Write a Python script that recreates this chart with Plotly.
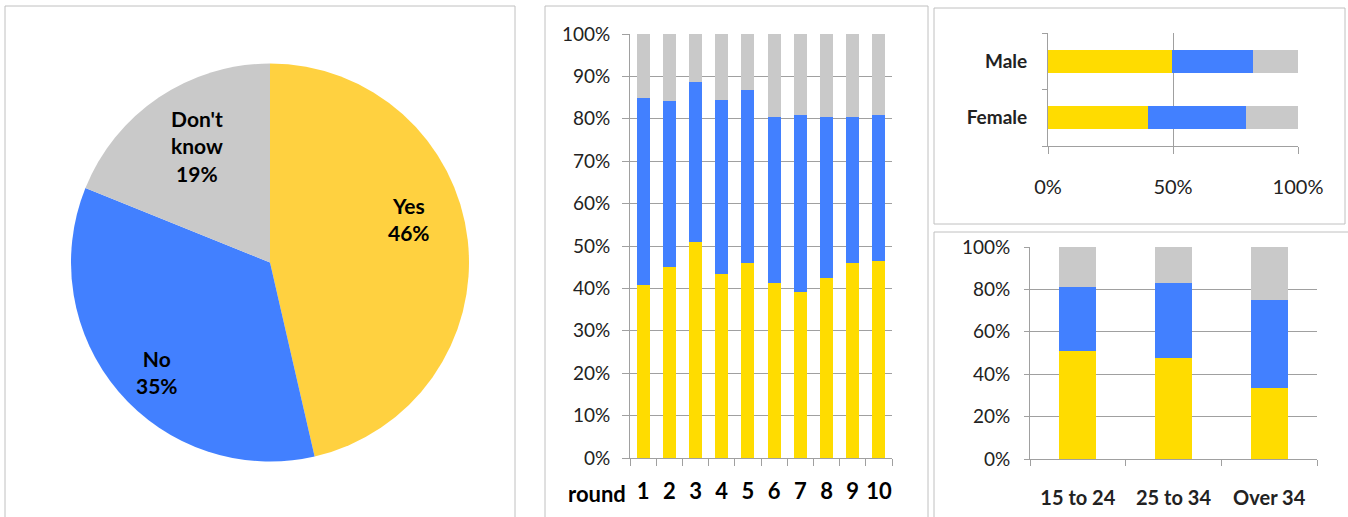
import plotly.graph_objects as go

W, H = 1348, 517

# ---------------- data ----------------
pie_labels = ["Yes", "No", "Don't know"]
pie_values = [46.4, 34.7, 18.9]

rounds = ["1", "2", "3", "4", "5", "6", "7", "8", "9", "10"]
round_yes = [40.8, 45.1, 50.9, 43.4, 46.0, 41.3, 39.1, 42.5, 45.9, 46.5]
round_no = [44.0, 39.2, 37.8, 41.1, 40.8, 39.2, 41.8, 38.0, 34.6, 34.4]
round_dk = [15.2, 15.7, 11.3, 15.5, 13.2, 19.5, 19.1, 19.5, 19.5, 19.1]

genders = ["Female", "Male"]
gender_yes = [40.0, 49.5]
gender_no = [39.1, 32.5]
gender_dk = [20.9, 18.0]

ages = ["15 to 24", "25 to 34", "Over 34"]
age_yes = [50.9, 47.5, 33.4]
age_no = [30.3, 35.7, 41.5]
age_dk = [18.8, 16.8, 25.1]

gender_ticks = [0, 50, 100]

# ---------------- styles ----------------
PIE_COLORS = ["#FFD140", "#4280FF", "#C9C9C9"]
YES_C, NO_C, DK_C = "#FFDC00", "#4280FF", "#C9C9C9"
GRID = "#A0A0A0"
FONT = "Lato"
TXT = "#222222"


def px(x):
    return x / W


def py(y):
    return 1 - y / H


fig = go.Figure()

# Pie
fig.add_trace(go.Pie(
    labels=pie_labels, values=pie_values, sort=False, direction="clockwise",
    rotation=0, marker=dict(colors=PIE_COLORS, line=dict(width=0)),
    textinfo="none", hoverinfo="label+percent", showlegend=False, automargin=False,
    domain=dict(x=[px(71), px(469)], y=[py(462), py(63)]),
))

# Rounds stacked bars
for vals, col, name in [(round_yes, YES_C, "Yes"), (round_no, NO_C, "No"), (round_dk, DK_C, "Don't know")]:
    fig.add_trace(go.Bar(x=rounds, y=vals, marker=dict(color=col, line=dict(width=0)),
                         name=name, showlegend=False, xaxis="x", yaxis="y"))

# Gender horizontal stacked bars
for vals, col, name in [(gender_yes, YES_C, "Yes"), (gender_no, NO_C, "No"), (gender_dk, DK_C, "Don't know")]:
    fig.add_trace(go.Bar(y=genders, x=vals, orientation="h", marker=dict(color=col, line=dict(width=0)),
                         name=name, showlegend=False, xaxis="x2", yaxis="y2", width=0.4))

# Age stacked bars
for vals, col, name in [(age_yes, YES_C, "Yes"), (age_no, NO_C, "No"), (age_dk, DK_C, "Don't know")]:
    fig.add_trace(go.Bar(x=ages, y=vals, marker=dict(color=col, line=dict(width=0)),
                         name=name, showlegend=False, xaxis="x3", yaxis="y3", width=0.39))

bold_font = dict(family=FONT, size=22, color="#000000", weight="bold")

fig.update_layout(
    template="none",
    width=W, height=H, margin=dict(l=0, r=0, t=0, b=0, pad=0, autoexpand=False),
    paper_bgcolor="white", plot_bgcolor="white",
    barmode="stack", bargap=0.5, showlegend=False,
    font=dict(family=FONT),
    xaxis=dict(domain=[px(630), px(892)], anchor="y", type="category", automargin=False,
               showline=True, linecolor=GRID, linewidth=1, ticks="outside", tickson="boundaries",
               ticklen=7, tickcolor=GRID, tickwidth=1, showgrid=False, tickangle=0,
               tickfont=bold_font, ticklabelstandoff=14, fixedrange=True),
    yaxis=dict(domain=[py(458), py(34)], anchor="x", range=[0, 100], dtick=10, automargin=False,
               ticksuffix="%", showline=True, linecolor=GRID, linewidth=1, ticks="outside",
               ticklen=7, tickcolor=GRID, tickwidth=1, showgrid=True, gridcolor=GRID, gridwidth=1,
               zeroline=False, tickfont=dict(family=FONT, size=19, color=TXT), ticklabelstandoff=8),
    xaxis2=dict(domain=[px(1048), px(1298)], anchor="y2", range=[0, 100], automargin=False,
                tickmode="array", tickvals=gender_ticks, ticktext=[f"{t}%" for t in gender_ticks],
                showline=True, linecolor=GRID, linewidth=1,
                ticks="outside", ticklen=7, tickcolor=GRID, tickwidth=1, showgrid=True,
                gridcolor=GRID, gridwidth=1,
                zeroline=False, tickfont=dict(family=FONT, size=20, color=TXT), ticklabelstandoff=16),
    yaxis2=dict(domain=[py(146), py(33)], anchor="x2", type="category", automargin=False,
                categoryorder="array", categoryarray=genders,
                showline=True, linecolor=GRID, linewidth=1, ticks="outside", tickson="boundaries",
                ticklen=5, tickcolor=GRID, tickwidth=1, showgrid=False,
                tickfont=dict(family=FONT, size=19, color=TXT, weight="bold"),
                ticklabelstandoff=16),
    xaxis3=dict(domain=[px(1030), px(1317)], anchor="y3", type="category", automargin=False,
                showline=True, linecolor=GRID, linewidth=1, ticks="outside", tickson="boundaries",
                ticklen=6, tickcolor=GRID, tickwidth=1, showgrid=False, tickangle=0,
                tickfont=dict(family=FONT, size=20, color=TXT, weight="bold"),
                ticklabelstandoff=21),
    yaxis3=dict(domain=[py(459), py(247)], anchor="x3", range=[0, 100], dtick=20, automargin=False,
                ticksuffix="%", showline=True, linecolor=GRID, linewidth=1, ticks="outside",
                ticklen=5, tickcolor=GRID, tickwidth=1, showgrid=True, gridcolor=GRID, gridwidth=1,
                zeroline=False, tickfont=dict(family=FONT, size=19, color=TXT), ticklabelstandoff=10),
)

# Panel borders
border = dict(type="rect", xref="paper", yref="paper", line=dict(color="#C0C0C0", width=1),
              fillcolor="rgba(0,0,0,0)", layer="below")
for (x0, y0, x1, y1) in [(5, 6, 515, 530), (545, 6, 928, 530), (934, 8, 1345, 224), (934, 232, 1352, 530)]:
    fig.add_shape(**border, x0=px(x0), x1=px(x1), y0=py(y1), y1=py(y0))

# Pie labels
total = sum(pie_values)
label_pos = [(409, 219), (157, 372), (197, 146)]
for lab, val, (lx, ly) in zip(pie_labels, pie_values, label_pos):
    txt = f"<b>{lab.replace(' ', '<br>')}<br>{round(100 * val / total)}%</b>"
    fig.add_annotation(x=px(lx), y=py(ly), xref="paper", yref="paper", text=txt,
                       showarrow=False, font=dict(family=FONT, size=21, color="#000000"),
                       align="center", xanchor="center", yanchor="middle")

fig.add_annotation(x=px(597), y=py(493), xref="paper", yref="paper", text="<b>round</b>",
                   showarrow=False, font=dict(family=FONT, size=22, color="#000000"),
                   xanchor="center", yanchor="middle")

fig.write_html("out.html")
